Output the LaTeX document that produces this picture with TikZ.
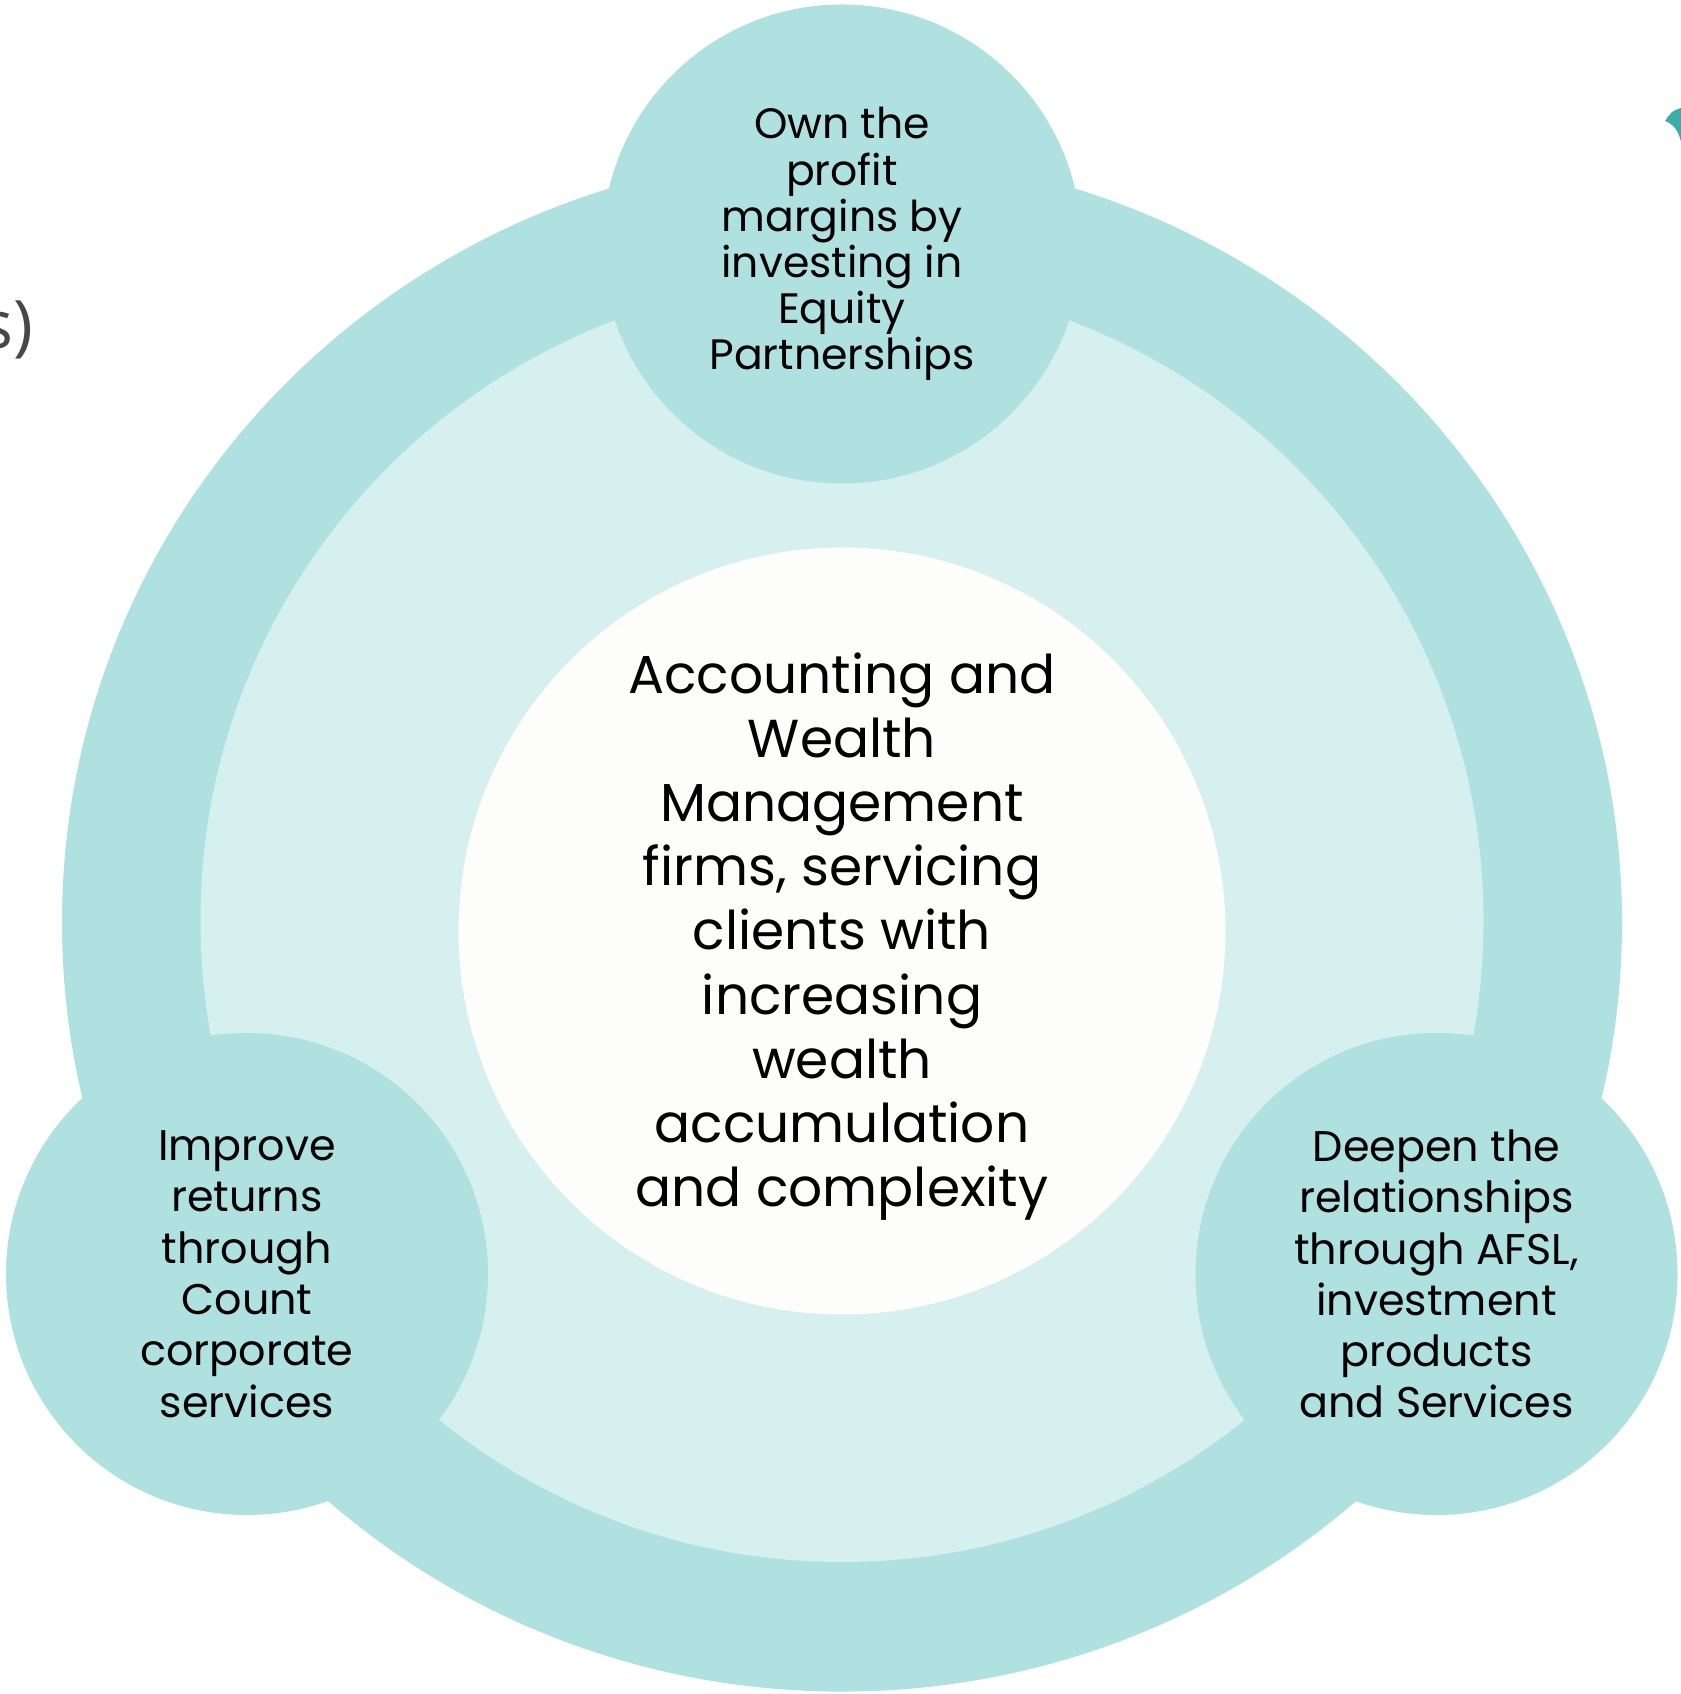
\documentclass[tikz,border=0pt]{standalone}
\usepackage{fontspec}
\setmainfont{Poppins}
\newfontfamily\notefont{Open Sans}
\usepackage{xcolor}
\definecolor{ringteal}{HTML}{AEE1DF}
\definecolor{paleteal}{HTML}{D6EFEF}
\definecolor{corewhite}{HTML}{FDFDFC}
\definecolor{arrowteal}{HTML}{3DADA9}
\definecolor{notegray}{HTML}{474747}

\tikzset{
    disc/.style={circle, draw=none, inner sep=0pt, align=center, text=black},
    petal/.style={disc, fill=ringteal, minimum size=4.82cm, font=\fontsize{12.2}{14.6}\selectfont},
}

\begin{document}
\begin{tikzpicture}
        \useasboundingbox (0,0) rectangle (16.81,16.94);
        \clip (0,0) rectangle (16.81,16.94);

        % rings
        \fill[ringteal] (8.42,7.714) ellipse [x radius=7.80, y radius=7.69];
        \fill[paleteal] (8.42,7.735) circle [radius=6.415];

        % core
        \node[disc, fill=corewhite, minimum size=7.67cm] (core) at (8.42,7.63) {};
        \node[align=center, inner sep=0pt, font=\fontsize{15.2}{18.25}\selectfont] (corelabel)
            at ([yshift=-0.55mm]core.center)
            {Accounting and\\Wealth\\Management\\firms, servicing\\clients with\\increasing\\wealth\\accumulation\\and complexity};

        % petals
        \node[petal, minimum size=4.79cm, font=\fontsize{12.1}{13.12}\selectfont] (equity) at (8.42,14.50)
            {Own the\\profit\\margins by\\investing in\\Equity\\Partnerships};
        \node[petal] (count) at (2.47,4.20)
            {Improve\\returns\\through\\Count\\corporate\\services};
        \node[petal] (afsl) at (14.365,4.20)
            {Deepen the\\relationships\\through AFSL,\\investment\\products\\and Services};

        % cut-off bits at the edges
        \node[anchor=east, inner sep=0pt, text=notegray, font=\notefont\fontsize{19}{22}\selectfont] (tail) at (0.34,13.64) {s)};
        \fill[arrowteal] (16.81,15.86) .. controls (16.72,15.83) .. (16.65,15.73)
            .. controls (16.74,15.70) and (16.79,15.62) .. (16.81,15.52) -- cycle;
\end{tikzpicture}
\end{document}
